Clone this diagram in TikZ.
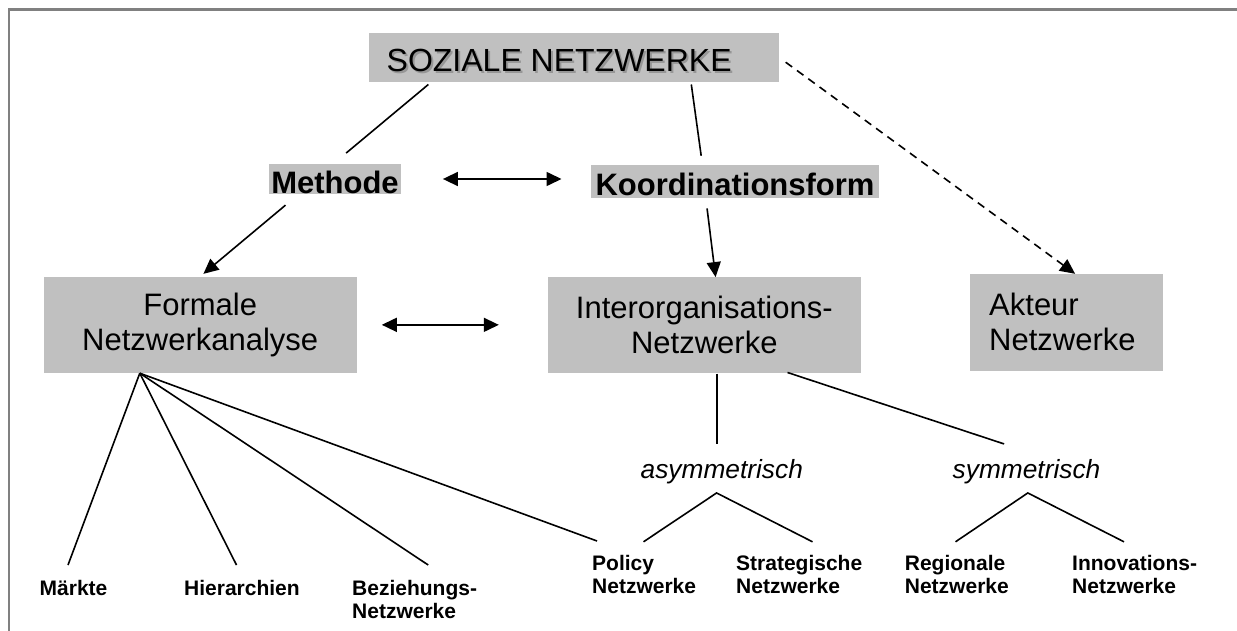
\documentclass[tikz,border=0pt]{standalone}
\usepackage{fontspec}
\setmainfont{Liberation Sans}
\usetikzlibrary{arrows.meta,calc}
\definecolor{boxgray}{RGB}{192,192,192}
\definecolor{framegray}{RGB}{128,128,128}
\definecolor{shadowgray}{RGB}{150,150,150}

\tikzset{
  graybox/.style={fill=boxgray, draw=none, inner sep=0pt},
  lnk/.style={line width=1.6pt, black},
  arrowend/.style={-{Triangle[length=15pt,width=14pt]}},
  arrowboth/.style={{Triangle[length=15pt,width=14pt]}-{Triangle[length=15pt,width=14pt]}},
  bigtext/.style={font=\fontsize{31}{35}\selectfont},
  headtext/.style={font=\fontsize{31}{35}\selectfont\bfseries},
  leaftext/.style={font=\fontsize{21}{23.3}\selectfont\bfseries, align=left, anchor=north west, inner sep=0pt},
  kindtext/.style={font=\fontsize{26.3}{30}\selectfont\itshape, anchor=base, inner sep=0pt},
  titletext/.style={font=\fontsize{32}{38}\selectfont, anchor=base west, inner sep=0pt},
}

\begin{document}
\begin{tikzpicture}[x=1pt,y=-1pt]
\useasboundingbox (0,0) rectangle (1237,631);

% frame
\draw[framegray, line width=2.2pt] (8.7,631) -- (8.7,9.5) -- (1237,9.5);

% title with drop shadow
\node[graybox, minimum width=410pt, minimum height=49pt] (soz) at (574,57.5) {};
\node[titletext, text=shadowgray] (sozshadow) at (388.5,73.7) {SOZIALE NETZWERKE};
\node[titletext] (soztext) at (386.5,71.7) {SOZIALE NETZWERKE};

% second level
\node[graybox, headtext, minimum width=132pt, minimum height=30pt,
      text height=28.6pt, text depth=0pt] (methode) at (335,179) {Methode};
\node[graybox, headtext, minimum width=288.6pt, minimum height=32.5pt,
      text height=28.5pt, text depth=0pt] (koord) at (735,181.75) {Koordinationsform};

% third level
\node[graybox, bigtext, align=center, minimum width=313.5pt, minimum height=96.3pt]
  (formale) at (200.25,324.85) {Formale\\Netzwerkanalyse};
\node[graybox, bigtext, align=center, minimum width=313.4pt, minimum height=96pt]
  (inter) at (704.3,325.3) {Interorganisations-\\Netzwerke};
\node[graybox, bigtext, align=left, text width=154pt, minimum width=193pt, minimum height=96.7pt]
  (akteur) at (1066.2,322.35) {Akteur\\Netzwerke};

% kinds of inter-organisational networks
\node[kindtext] (asym) at (721.8,478.3) {asymmetrisch};
\node[kindtext] (sym) at (1026.5,478.3) {symmetrisch};

% leaves
\node[leaftext] (maerkte) at (39.5,579.8) {Märkte};
\node[leaftext] (hier) at (184,579.8) {Hierarchien};
\node[leaftext] (bez) at (352,579.8) {Beziehungs-\\Netzwerke};
\node[leaftext] (policy) at (592,554.8) {Policy\\Netzwerke};
\node[leaftext] (strat) at (736,554.8) {Strategische\\Netzwerke};
\node[leaftext] (reg) at (904.7,554.8) {Regionale\\Netzwerke};
\node[leaftext] (innov) at (1072,554.8) {Innovations-\\Netzwerke};

% connectors from the title
\draw[lnk, shorten <=3.6pt, shorten >=16.7pt]
  ([xshift=62.3pt]soz.south west) -- ([xshift=64.5pt]methode.north west);
\draw[lnk, shorten <=2.3pt, shorten >=9.6pt]
  ([xshift=322.2pt]soz.south west) -- ([xshift=112pt]koord.north west);
\draw[lnk, arrowend, dash pattern=on 8pt off 6pt, shorten <=8pt]
  (soz.east) -- ([xshift=105.6pt]akteur.north west);

% second level connectors
\draw[lnk, arrowboth, shorten <=41.7pt, shorten >=29pt]
  (methode.east) -- (methode.east -| koord.west);
\draw[lnk, arrowend, shorten <=17.1pt, shorten >=4.2pt]
  ([xshift=29.8pt]methode.south west) -- ([xshift=156.9pt]formale.north west);
\draw[lnk, arrowend, shorten <=10.3pt]
  ([xshift=115.3pt]koord.south west) -- ([xshift=168.2pt]inter.north west);

% third level connectors
\draw[lnk, arrowboth, shorten <=24.6pt, shorten >=48.6pt]
  (formale.east) -- (formale.east -| inter.west);

% fan below the formal network analysis
\coordinate (hub) at ([xshift=96.5pt]formale.south west);
\draw[lnk] (hub) -- ([xshift=28.5pt,yshift=14.8pt]maerkte.north west);
\draw[lnk] (hub) -- ([xshift=52.5pt,yshift=14.8pt]hier.north west);
\draw[lnk] (hub) -- ([xshift=76.2pt,yshift=14.8pt]bez.north west);
\draw[lnk] (hub) -- ([xshift=5pt,yshift=13.8pt]policy.north west);

% split of inter-organisational networks
\coordinate (istem) at ([xshift=169.4pt]inter.south west);
\draw[lnk, shorten >=15.4pt] (istem) -- (istem |- asym.north);
\draw[lnk] ([xshift=240.1pt,yshift=1pt]inter.south west) -- ([xshift=51.6pt,yshift=15.1pt]sym.north west);

% asymmetric branch
\coordinate (aapex) at ([xshift=-5.2pt,yshift=-9pt]asym.south);
\draw[lnk] ([xshift=51.5pt,yshift=13pt]policy.north west) -- (aapex) -- ([xshift=76.5pt,yshift=13pt]strat.north west);

% symmetric branch
\coordinate (sapex) at ([xshift=1.3pt,yshift=-9pt]sym.south);
\draw[lnk] ([xshift=50.8pt,yshift=13pt]reg.north west) -- (sapex) -- ([xshift=52pt,yshift=13pt]innov.north west);
\end{tikzpicture}
\end{document}
